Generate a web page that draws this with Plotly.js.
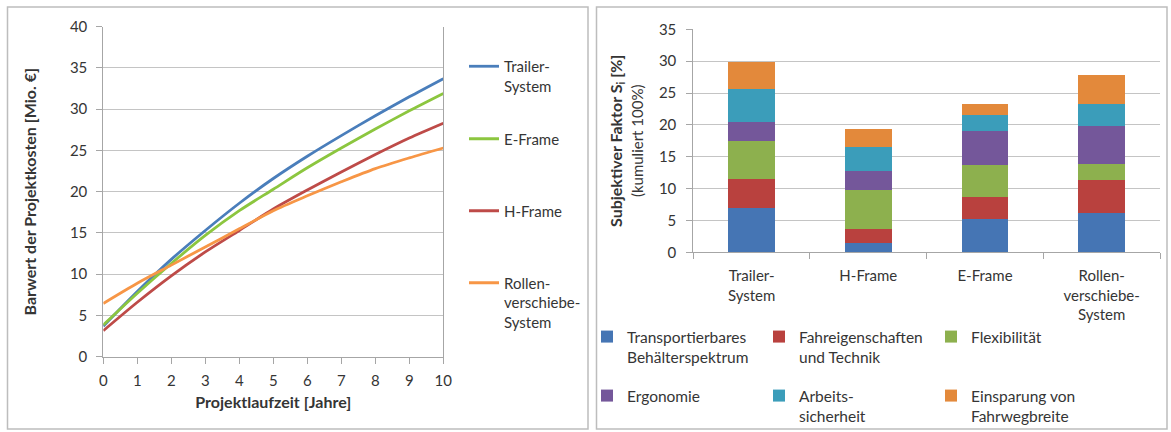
<!DOCTYPE html>
<html><head><meta charset="utf-8">
<script src="https://cdn.plot.ly/plotly-3.0.1.min.js"></script>
<style>html,body{margin:0;padding:0;background:#fff}#chart{width:1171px;height:432px}</style>
</head><body><div id="chart"></div>
<script>
// ---- Left chart: Barwert der Projektkosten ----
const years = [0,1,2,3,4,5,6,7,8,9,10];
const lineNames = ["Trailer-<br>System","E-Frame","H-Frame","Rollen-<br>verschiebe-<br>System"];
const trailerCost = [3.7,7.9,11.8,15.3,18.6,21.6,24.3,26.8,29.2,31.5,33.7];
const eFrameCost  = [3.85,7.7,11.3,14.7,17.7,20.3,22.9,25.3,27.6,29.8,31.9];
const hFrameCost  = [3.15,6.6,9.8,12.7,15.3,17.9,20.2,22.4,24.5,26.5,28.3];
const rollenCost  = [6.45,8.9,11.1,13.3,15.5,17.7,19.5,21.2,22.8,24.1,25.3];
const lineColors = ["#4a7ebb","#8cc63f","#be4b48","#f79646"];
const yTicksLeft = [0,5,10,15,20,25,30,35,40];
const xTicksLeft = [0,1,2,3,4,5,6,7,8,9,10];

// ---- Right chart: Subjektiver Faktor ----
const systems = ["Trailer-<br>System","H-Frame","E-Frame","Rollen-<br>verschiebe-<br>System"];
const factorNames = ["Transportierbares<br>Behälterspektrum","Fahreigenschaften<br>und Technik","Flexibilität","Ergonomie","Arbeits-<br>sicherheit","Einsparung von<br>Fahrwegbreite"];
const behaelter         = [6.9,1.5,5.3,6.1];
const fahreigenschaften = [4.6,2.2,3.4,5.3];
const flexibilitaet     = [6.0,6.1,5.0,2.4];
const ergonomie         = [2.9,3.0,5.4,6.1];
const arbeitssicherheit = [5.2,3.8,2.4,3.4];
const einsparung        = [4.2,2.7,1.8,4.6];
const barColors = ["#4575b4","#b9413e","#8db04e","#74579a","#3b9dba","#e3893b"];
const yTicksRight = [0,5,10,15,20,25,30,35];

const W = 1171, H = 432;
const fx = x => x / W;
const fy = y => 1 - y / H;
const FONT = "Lato, 'Open Sans', sans-serif";
const TXT = "#353535";

const lineSeries = [trailerCost, eFrameCost, hFrameCost, rollenCost];
const lineLegends = ["legend","legend2","legend3","legend4"];
const traces = [];
lineSeries.forEach((ys, i) => {
  traces.push({
    type: "scatter", mode: "lines", x: years, y: ys, name: lineNames[i],
    xaxis: "x", yaxis: "y", legend: lineLegends[i],
    line: {color: lineColors[i], width: 2.8, shape: "spline", smoothing: 0.8},
    hoverinfo: "x+y+name"
  });
});
const barSeries = [behaelter, fahreigenschaften, flexibilitaet, ergonomie, arbeitssicherheit, einsparung];
barSeries.forEach((vals, i) => {
  traces.push({
    type: "bar", x: systems, y: vals, name: factorNames[i],
    xaxis: "x2", yaxis: "y2", legend: i < 3 ? "legend5" : "legend6",
    marker: {color: barColors[i], line: {width: 0}}
  });
});

const lineLegendTops = [50, 122.5, 194.5, 266.5];
const baseLegend = {
  xanchor: "left", yanchor: "top", bgcolor: "rgba(0,0,0,0)", borderwidth: 0,
  font: {family: FONT, size: 15, color: TXT}, valign: "top", itemclick: false, itemdoubleclick: false
};
const axisCommon = {
  zeroline: false, showline: true, linecolor: "#a6a6a6", linewidth: 1,
  ticks: "outside", ticklen: 6, tickcolor: "#a6a6a6",
  tickfont: {family: FONT, size: 15, color: TXT}
};
const layout = {
  width: W, height: H,
  margin: {l: 0, r: 0, t: 0, b: 0, pad: 0, autoexpand: false},
  paper_bgcolor: "#fff", plot_bgcolor: "#fff",
  font: {family: FONT, size: 15, color: TXT},
  barmode: "stack", bargap: 0.6,
  showlegend: true,
  xaxis: Object.assign({}, axisCommon, {
    domain: [fx(103.3), fx(443.3)], anchor: "y", range: [0, 10], tickvals: xTicksLeft,
    showgrid: false, ticklabelstandoff: 4,
    title: {text: "<b>Projektlaufzeit [Jahre]</b>", font: {family: FONT, size: 16, color: TXT}, standoff: 9}
  }),
  yaxis: Object.assign({}, axisCommon, {
    domain: [fy(356.7), fy(26.7)], anchor: "x", range: [0, 40], tickvals: yTicksLeft,
    showgrid: true, gridcolor: "#c4c4c4", gridwidth: 1, mirror: true, ticklabelstandoff: 6,
    title: {text: "<b>Barwert der Projektkosten [Mio. €]</b>", font: {family: FONT, size: 16, color: TXT}, standoff: 29}
  }),
  xaxis2: Object.assign({}, axisCommon, {
    domain: [fx(693.3), fx(1160)], anchor: "y2", type: "category",
    showgrid: false, tickson: "boundaries", ticklabelstandoff: 10
  }),
  yaxis2: Object.assign({}, axisCommon, {
    domain: [fy(252.3), fy(29.3)], anchor: "x2", range: [0, 35], tickvals: yTicksRight,
    showgrid: true, gridcolor: "#c4c4c4", gridwidth: 1, ticklabelstandoff: 7,
    title: {text: "<b>Subjektiver Faktor S<sub>i</sub> [%]</b><br><span style=\"font-size:15px\">(kumuliert 100%)</span>", font: {family: FONT, size: 16, color: TXT}, standoff: 11}
  }),
  legend:  Object.assign({}, baseLegend, {x: fx(464), y: fy(lineLegendTops[0])}),
  legend2: Object.assign({}, baseLegend, {x: fx(464), y: fy(lineLegendTops[1])}),
  legend3: Object.assign({}, baseLegend, {x: fx(464), y: fy(lineLegendTops[2])}),
  legend4: Object.assign({}, baseLegend, {x: fx(464), y: fy(lineLegendTops[3])}),
  legend5: Object.assign({}, baseLegend, {x: fx(587), y: fy(320), orientation: "h", traceorder: "normal", entrywidth: 127, entrywidthmode: "pixels", font: {family: FONT, size: 15.5, color: TXT}}),
  legend6: Object.assign({}, baseLegend, {x: fx(587), y: fy(379), orientation: "h", traceorder: "normal", entrywidth: 127, entrywidthmode: "pixels", font: {family: FONT, size: 15.5, color: TXT}}),
  shapes: [
    {type: "rect", xref: "paper", yref: "paper", x0: fx(7.5), x1: fx(588), y0: fy(429), y1: fy(7), line: {color: "#bdbdbd", width: 1.5}, fillcolor: "rgba(0,0,0,0)", layer: "below"},
    {type: "rect", xref: "paper", yref: "paper", x0: fx(596.5), x1: fx(1167), y0: fy(429), y1: fy(7), line: {color: "#bdbdbd", width: 1.5}, fillcolor: "rgba(0,0,0,0)", layer: "below"}
  ]
};
Plotly.newPlot("chart", traces, layout, {displayModeBar: false});
</script></body></html>
